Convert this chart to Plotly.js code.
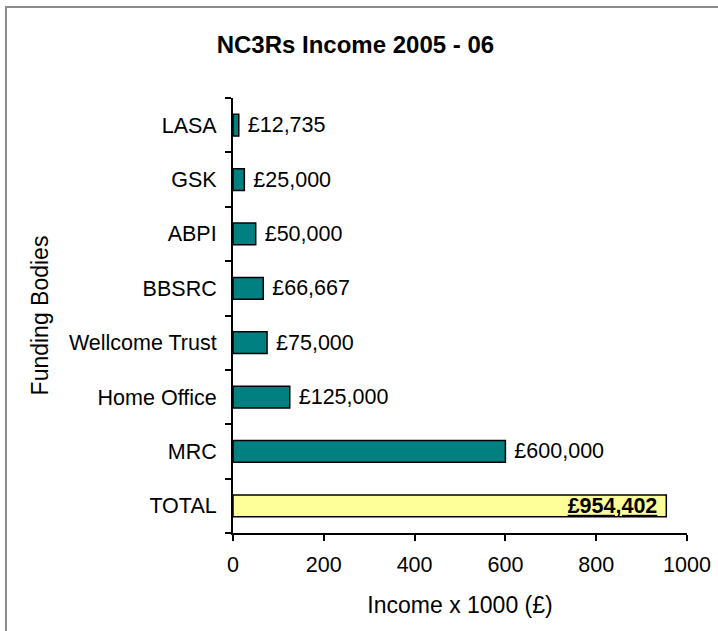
<!DOCTYPE html>
<html>
<head>
<meta charset="utf-8">
<script src="https://cdn.plot.ly/plotly-3.0.1.min.js"></script>
<style>
html,body{margin:0;padding:0;background:#fff;}
#wrap{position:relative;width:718px;height:631px;overflow:hidden;}
#frame{position:absolute;left:5px;top:6px;width:800px;height:800px;border-left:2px solid #8c8c8c;border-top:2px solid #8c8c8c;pointer-events:none;z-index:5;}
#chart{position:absolute;left:0;top:0;width:718px;height:631px;}
</style>
</head>
<body>
<div id="wrap">
<div id="chart"></div>
<div id="frame"></div>
</div>
<script>
// Data (bottom to top)
const categories = ["TOTAL", "MRC", "Home Office", "Wellcome Trust", "BBSRC", "ABPI", "GSK", "LASA"];
const incomeThousands = [954.402, 600, 125, 75, 66.667, 50, 25, 12.735];
const valueLabels = ["£954,402", "£600,000", "£125,000", "£75,000", "£66,667", "£50,000", "£25,000", "£12,735"];
const xTicks = [0, 200, 400, 600, 800, 1000];

const NB = "\u00a0";
const barColors = categories.map(c => c === "TOTAL" ? "#FFFF99" : "#008080");
const textPos = categories.map(c => c === "TOTAL" ? "inside" : "outside");
const shownText = valueLabels.map((t, i) =>
  categories[i] === "TOTAL" ? "<b><u>" + t + "</u></b>" + NB : NB + t);

const font = "Arial, 'Liberation Sans', sans-serif";

const trace = {
  type: "bar",
  orientation: "h",
  y: categories,
  x: incomeThousands,
  text: shownText,
  textposition: textPos,
  insidetextanchor: "end",
  constraintext: "none",
  cliponaxis: false,
  textfont: {family: font, size: 21.5, color: "#000"},
  marker: {color: barColors, line: {color: "#000", width: 1.5}},
  width: 0.4,
  hoverinfo: "none"
};

const layout = {
  width: 718,
  height: 631,
  margin: {l: 233, r: 31, t: 98, b: 98},
  paper_bgcolor: "rgba(0,0,0,0)",
  plot_bgcolor: "rgba(0,0,0,0)",
  font: {family: font, color: "#000"},
  showlegend: false,
  title: {
    text: "<b>NC3Rs Income 2005 - 06</b>",
    font: {family: font, size: 24, color: "#000"},
    x: 0.495, xref: "container", xanchor: "center",
    y: 1 - 45/631, yref: "container", yanchor: "middle"
  },
  xaxis: {
    range: [0, 1000],
    tickvals: xTicks,
    ticktext: xTicks.map(String),
    showgrid: false,
    zeroline: false,
    showline: true,
    linecolor: "#000",
    linewidth: 2,
    ticks: "outside",
    ticklen: 6,
    tickwidth: 2,
    tickcolor: "#000",
    ticklabelstandoff: 5,
    tickfont: {family: font, size: 21.5, color: "#000"},
    title: {text: "Income x 1000 (£)", font: {family: font, size: 23, color: "#000"}, standoff: 21},
    fixedrange: true
  },
  yaxis: {
    type: "category",
    categoryorder: "array",
    categoryarray: categories,
    range: [-0.5, categories.length - 0.5],
    showgrid: false,
    zeroline: false,
    showline: true,
    linecolor: "#000",
    linewidth: 2,
    ticks: "outside",
    tickson: "boundaries",
    ticklen: 6,
    tickwidth: 2,
    tickcolor: "#000",
    ticklabelstandoff: 10,
    tickfont: {family: font, size: 21.5, color: "#000"},
    title: {text: "Funding Bodies", font: {family: font, size: 23, color: "#000"}, standoff: 14},
    fixedrange: true
  }
};

Plotly.newPlot("chart", [trace], layout, {displayModeBar: false, staticPlot: true});
</script>
</body>
</html>
